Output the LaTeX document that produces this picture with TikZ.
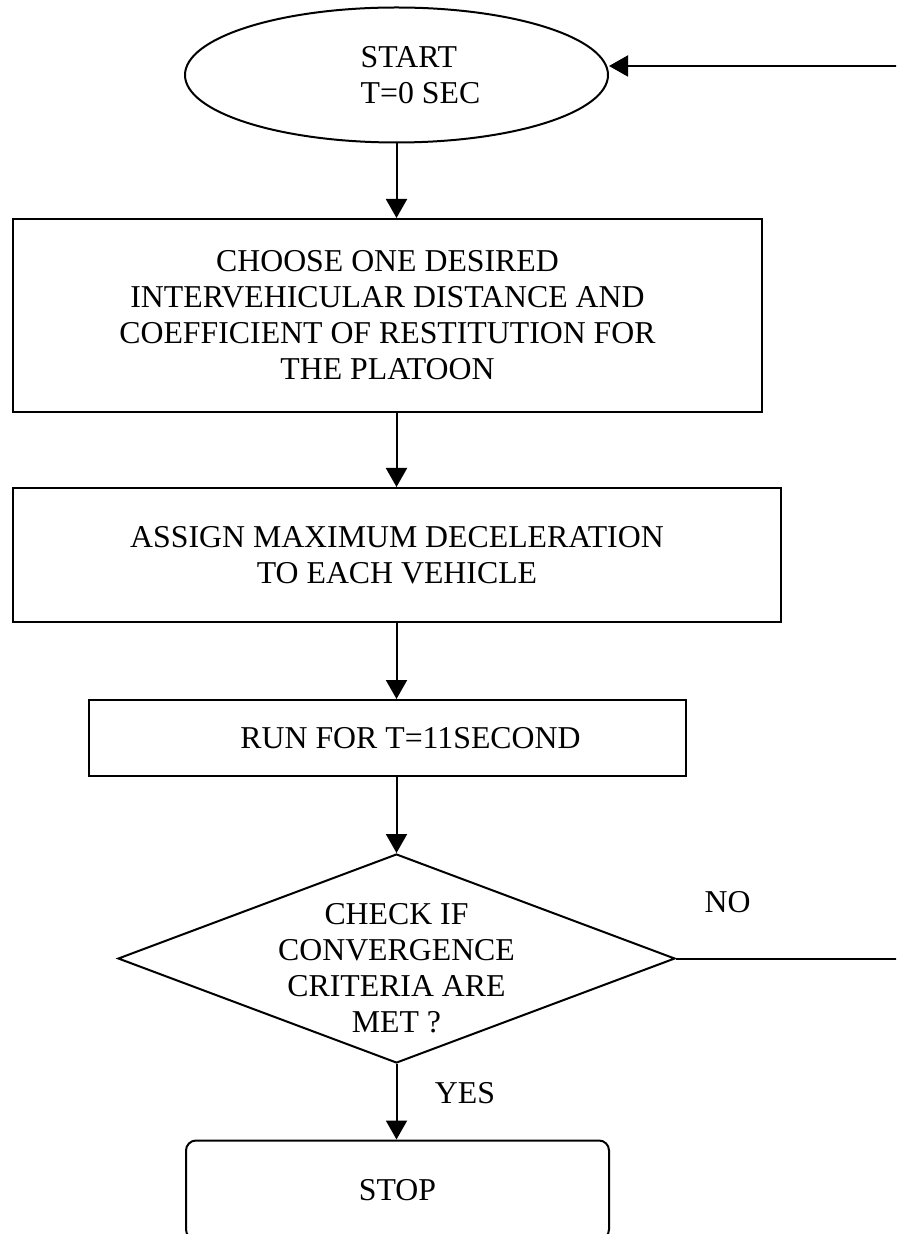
\documentclass[tikz,border=0pt]{standalone}
\usepackage{fontspec}
\setmainfont{Liberation Serif}
\usetikzlibrary{arrows.meta,shapes.geometric,positioning}

\begin{document}
\begin{tikzpicture}[x=0.5pt,y=-0.5pt,
	  font=\fontsize{15.9}{18}\selectfont,
	  every node/.style={inner sep=0pt},
	  box/.style={draw,line width=1pt,rectangle,align=center},
	  flow/.style={line width=1pt,-{Triangle[width=10.5pt,length=9.5pt]}}]
	  \clip (0,0) rectangle (896,1234);
	  \node[draw,line width=1pt,ellipse,align=left,
	    minimum width=211.5pt,minimum height=67.5pt] (start) at (396.5,75)
	    {\hspace*{24pt}START\\\hspace*{24pt}T=0 SEC};
	  \node[box,minimum width=374.5pt,minimum height=96.5pt] (choose) at (387.5,315.5)
	    {CHOOSE ONE DESIRED\\INTERVEHICULAR DISTANCE AND\\COEFFICIENT OF RESTITUTION FOR\\THE PLATOON};
	  \node[box,minimum width=384pt,minimum height=67pt] (assign) at (397,555)
	    {ASSIGN MAXIMUM DECELERATION\\TO EACH VEHICLE};
	  \node[box,minimum width=298.5pt,minimum height=38pt] (run) at (387.5,738)
	    {\hspace*{23pt}RUN FOR T=11SECOND};
	  \node[draw,line width=1pt,diamond,
	    minimum width=278.5pt,minimum height=104.5pt] (check) at (396.5,958.5) {};
	  \node[align=center,yshift=-5pt] (checktext) at (check)
	    {CHECK IF\\CONVERGENCE\\CRITERIA ARE\\MET ?};
	  \node[draw,line width=1pt,rounded corners=5pt,
	    minimum width=211.5pt,minimum height=49.5pt] (stop) at (397.5,1190) {STOP};
	  \node[anchor=base] (yes) at (465,1103) {YES};
	  \node[anchor=base] (no) at (727.5,912) {NO};
	  \coordinate (turn) at (905,66);
	  % main line
	  \draw[flow] (start.south) -- (start.south |- choose.north);
	  \draw[flow] (choose.south -| start.south) -- (assign.north -| start.south);
	  \draw[flow] (assign.south -| start.south) -- (run.north -| start.south);
	  \draw[flow] (run.south -| start.south) -- (check.north);
	  \draw[flow] (check.south) -- (stop.north -| check.south);
	  % back to start
	  \draw[flow] (check.east) -| (turn) -- (start.east |- turn);
	\end{tikzpicture}
\end{document}
